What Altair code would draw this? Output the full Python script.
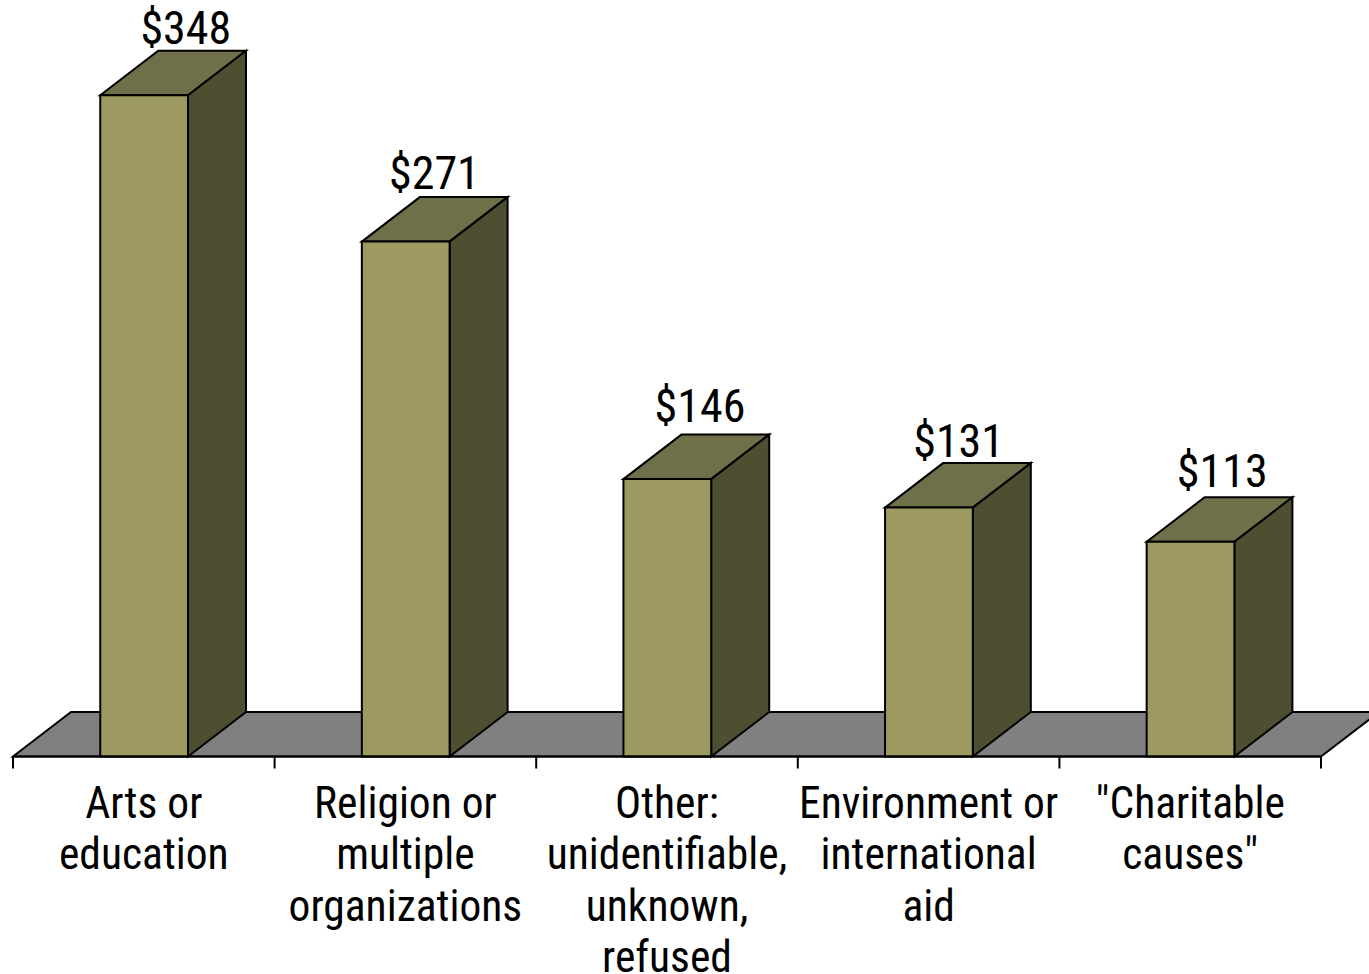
import altair as alt
import pandas as pd

categories = [
    ["Arts or", "education"],
    ["Religion or", "multiple", "organizations"],
    ["Other:", "unidentifiable,", "unknown,", "refused"],
    ["Environment or", "international", "aid"],
    ['"Charitable', 'causes"'],
]
values = [348, 271, 146, 131, 113]
amounts = ["$348", "$271", "$146", "$131", "$113"]

W, H = 1369, 974
X0, SLOT = 13.0, 261.6      # left edge of the category axis, width of one slot
BASE, UNIT = 756.5, 1.9     # baseline position, pixels per dollar
DEPTH_X = 58 / SLOT         # extrusion of the box, in slots
DEPTH_Y = 44.5 / UNIT       # extrusion of the box, in dollars
BAR_L, BAR_R = 0.3335, 0.669

FRONT, TOP, SIDE, FLOOR = "#9c9a60", "#6f6f49", "#4e4e30", "#808080"
FONT = "Roboto Condensed"
LINE_W = 2

x_scale = alt.Scale(domain=[-X0 / SLOT, (W - X0) / SLOT], nice=False, zero=False)
y_scale = alt.Scale(domain=[(BASE - H) / UNIT, BASE / UNIT], nice=False, zero=False)
X = alt.X("x:Q", scale=x_scale, axis=None)
Y = alt.Y("y:Q", scale=y_scale, axis=None, stack=None)


def polygon(rows, fill, clip=False):
    return (
        alt.Chart(pd.DataFrame(rows))
        .mark_area(fill=fill, stroke="black", strokeWidth=LINE_W, clip=clip, orient="vertical")
        .encode(x=X, y=Y, y2="y2:Q", detail="g:N")
    )


n = len(values)
floor = polygon(
    [
        {"g": 0, "x": 0, "y": 0, "y2": 0},
        {"g": 0, "x": DEPTH_X, "y": DEPTH_Y, "y2": 0},
        {"g": 0, "x": n, "y": DEPTH_Y, "y2": 0},
        {"g": 0, "x": n + DEPTH_X, "y": DEPTH_Y, "y2": DEPTH_Y},
    ],
    FLOOR,
    clip=True,
)

top_rows, side_rows, front_rows = [], [], []
for i, v in enumerate(values):
    l, r = i + BAR_L, i + BAR_R
    top_rows += [
        {"g": i, "x": l, "y": v, "y2": v},
        {"g": i, "x": l + DEPTH_X, "y": v + DEPTH_Y, "y2": v},
        {"g": i, "x": r, "y": v + DEPTH_Y, "y2": v},
        {"g": i, "x": r + DEPTH_X, "y": v + DEPTH_Y, "y2": v + DEPTH_Y},
    ]
    side_rows += [
        {"g": i, "x": r, "y": v, "y2": 0},
        {"g": i, "x": r + DEPTH_X, "y": v + DEPTH_Y, "y2": DEPTH_Y},
    ]
    front_rows.append({"x": l, "x2": r, "y": v, "y2": 0})

tops = polygon(top_rows, TOP)
sides = polygon(side_rows, SIDE)
fronts = (
    alt.Chart(pd.DataFrame(front_rows))
    .mark_bar(fill=FRONT, stroke="black", strokeWidth=LINE_W)
    .encode(x=X, x2="x2:Q", y=Y, y2="y2:Q")
)

# category axis drawn along the front edge of the floor
ticks = (
    alt.Chart(pd.DataFrame({"x": list(range(n + 1)), "y": [0] * (n + 1), "y2": [-12 / UNIT] * (n + 1)}))
    .mark_rule(color="black", strokeWidth=LINE_W)
    .encode(x=X, y=Y, y2="y2:Q")
)
axis_line = (
    alt.Chart(pd.DataFrame({"x": [0], "x2": [n], "y": [0]}))
    .mark_rule(color="black", strokeWidth=LINE_W)
    .encode(x=X, x2="x2:Q", y=Y)
)

LINE_PITCH = 51.4 / UNIT
FIRST_LINE = (BASE - 805) / UNIT
label_rows = [
    {"x": i + 0.5, "y": FIRST_LINE - j * LINE_PITCH, "t": line}
    for i, lines in enumerate(categories)
    for j, line in enumerate(lines)
]
cat_labels = (
    alt.Chart(pd.DataFrame(label_rows))
    .mark_text(font=FONT, fontSize=43.5, baseline="middle", align="center", color="black")
    .encode(x=X, y=Y, text="t:N")
)

# amounts float above the top face, each nudged slightly to sit clear of it
nudge_x = [13, 0, 4, 1, 3]
nudge_y = [65, 67, 71, 65, 69]
value_labels = (
    alt.Chart(pd.DataFrame({
        "x": [i + 0.5 + (DEPTH_X * SLOT / 2 + dx) / SLOT for i, dx in enumerate(nudge_x)],
        "y": [v + dy / UNIT for v, dy in zip(values, nudge_y)],
        "t": amounts,
    }))
    .mark_text(font=FONT, fontSize=46, baseline="middle", align="center", color="black")
    .encode(x=X, y=Y, text="t:N")
)

chart = (
    alt.layer(floor, tops, sides, fronts, axis_line, ticks, cat_labels, value_labels)
    .properties(width=W, height=H, padding=0, background="white")
    .configure_view(strokeWidth=0)
)

chart.save("out.html", embed_options={"renderer": "svg", "actions": False})
